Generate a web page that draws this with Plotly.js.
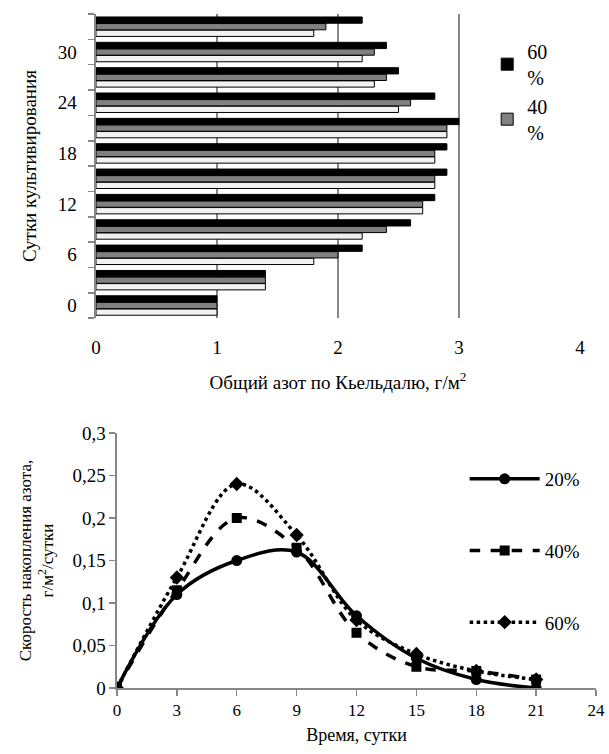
<!DOCTYPE html>
<html><head><meta charset="utf-8">
<script src="https://cdn.plot.ly/plotly-3.0.1.min.js"></script>
<style>html,body{margin:0;padding:0;background:#fff}#chart{width:609px;height:754px}</style>
</head><body><div id="chart"></div>
<script>
// Top chart data
const days = [0,3,6,9,12,15,18,21,24,27,30,33];
const dayTicks = [0,6,12,18,24,30];
const n20 = [1.0,1.4,1.8,2.2,2.7,2.8,2.8,2.9,2.5,2.3,2.2,1.8];
const n40 = [1.0,1.4,2.0,2.4,2.7,2.8,2.8,2.9,2.6,2.4,2.3,1.9];
const n60 = [1.0,1.4,2.2,2.6,2.8,2.9,2.9,3.0,2.8,2.5,2.4,2.2];
// Bottom chart data
const time = [0,3,6,9,12,15,18,21];
const r20 = [0,0.11,0.15,0.16,0.085,0.035,0.01,0];
const r40 = [0,0.115,0.2,0.165,0.065,0.025,0.02,0.01];
const r60 = [0,0.13,0.24,0.18,0.08,0.04,0.02,0.01];

const FAM = "Liberation Serif";
const font = {family:FAM, color:"#000", size:18};
const gray = "#868686";

const traces = [
  {type:"bar", orientation:"h", y:days, x:n20, name:"20 %", showlegend:false,
   marker:{color:"#f2f2f2", line:{color:"#000", width:1}}, xaxis:"x", yaxis:"y", legend:"legend"},
  {type:"bar", orientation:"h", y:days, x:n40, name:"40<br>%",
   marker:{color:"#808080", line:{color:"#000", width:1}}, xaxis:"x", yaxis:"y", legend:"legend"},
  {type:"bar", orientation:"h", y:days, x:n60, name:"60<br>%",
   marker:{color:"#000", line:{color:"#000", width:1}}, xaxis:"x", yaxis:"y", legend:"legend"},
  {type:"scatter", mode:"lines+markers", x:time, y:r20, name:"20%", legendgroup:"a",
   line:{color:"#000", width:3.5, shape:"spline", smoothing:1}, marker:{symbol:"circle", size:11, color:"#000"},
   xaxis:"x2", yaxis:"y2", legend:"legend2"},
  {type:"scatter", mode:"lines+markers", x:time, y:r40, name:"40%", legendgroup:"b",
   line:{color:"#000", width:3.5, dash:"dash", shape:"spline", smoothing:1}, marker:{symbol:"square", size:10, color:"#000"},
   xaxis:"x2", yaxis:"y2", legend:"legend2"},
  {type:"scatter", mode:"lines+markers", x:time, y:r60, name:"60%", legendgroup:"c",
   line:{color:"#000", width:3.5, dash:"dot", shape:"spline", smoothing:1}, marker:{symbol:"diamond", size:11, color:"#000"},
   xaxis:"x2", yaxis:"y2", legend:"legend2"}
];

const layout = {
  width:609, height:754, margin:{l:0,r:0,t:0,b:0},
  paper_bgcolor:"#fff", plot_bgcolor:"#fff",
  font:font, separators:", ",
  barmode:"group", bargap:0.22, bargroupgap:0.05,
  xaxis:{domain:[0.1576,0.9524], anchor:"y", range:[0,4], dtick:1, tick0:0,
    showgrid:true, gridcolor:gray, gridwidth:1.5, zeroline:false, showline:false,
    ticks:"", ticklabelstandoff:16, tickfont:{family:FAM, size:19},
    title:{text:"Общий азот по Кьельдалю, г/м<sup>2</sup>", font:{family:FAM, size:19}, standoff:18}},
  yaxis:{domain:[0.578,0.9814], anchor:"x", range:[-1.5,34.5],
    tickmode:"array", tickvals:dayTicks, ticks:"",
    minor:{tick0:1.5, dtick:3, ticks:"outside", ticklen:6, tickcolor:gray, tickwidth:1.5, showgrid:false},
    showline:true, linecolor:gray, linewidth:1.5, showgrid:false, zeroline:false,
    tickfont:{family:FAM, size:19}, ticklabelstandoff:14,
    title:{text:"Сутки культивирования", font:{family:FAM, size:19}, standoff:16}},
  xaxis2:{domain:[0.1921,0.9787], anchor:"y2", range:[0,24], dtick:3, tick0:0,
    showgrid:false, zeroline:false, showline:true, linecolor:gray, linewidth:1.5,
    ticks:"outside", ticklen:6, tickcolor:gray, tickwidth:1.5, tickfont:{family:FAM, size:17},
    title:{text:"Время, сутки", font:{family:FAM, size:18}, standoff:9}},
  yaxis2:{domain:[0.0875,0.4257], anchor:"x2", range:[0,0.3], dtick:0.05, tick0:0,
    showgrid:false, zeroline:false, showline:true, linecolor:gray, linewidth:1.5,
    ticks:"outside", ticklen:6, tickcolor:gray, tickwidth:1.5, tickfont:{family:FAM, size:19},
    title:{text:"Скорость накопления азота,<br>г/м<sup>2</sup>/сутки", font:{family:FAM, size:17}, standoff:14}},
  legend:{x:0.80, y:0.958, xanchor:"left", yanchor:"top", traceorder:"reversed",
    font:{family:FAM, size:20}, bgcolor:"rgba(0,0,0,0)", itemwidth:30},
  legend2:{x:0.763, y:0.39, xanchor:"left", yanchor:"top", traceorder:"grouped", tracegroupgap:44,
    font:{family:FAM, size:19}, bgcolor:"rgba(0,0,0,0)", itemwidth:70}
};

Plotly.newPlot("chart", traces, layout, {displayModeBar:false, staticPlot:true});
</script></body></html>
